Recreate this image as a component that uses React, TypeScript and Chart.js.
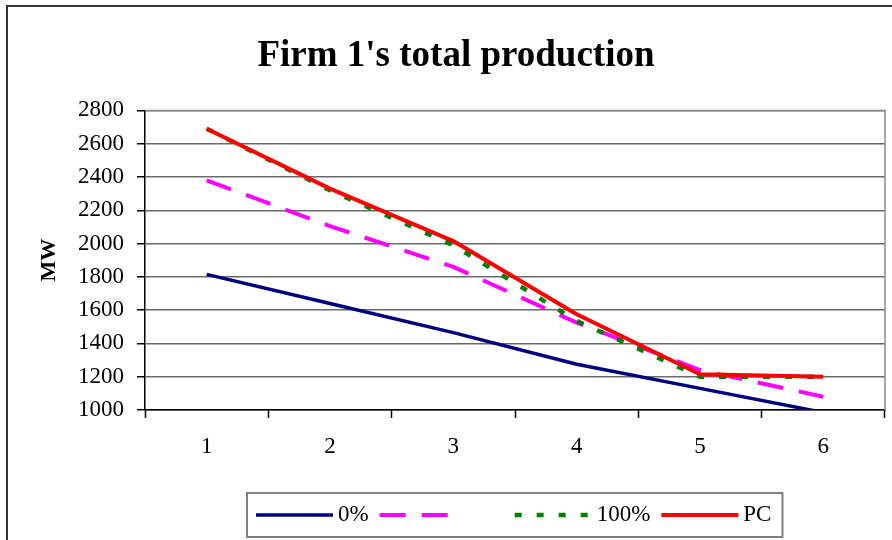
import React, { useEffect, useRef } from "react";
import { Chart, registerables } from "chart.js";

Chart.register(...registerables);

const titleText = "Firm 1's total production";
const yTitle = "MW";
const categories = ["1", "2", "3", "4", "5", "6"];
const series0 = [1815, 1640, 1465, 1275, 1130, 985];
const series50 = [2380, 2105, 1860, 1525, 1240, 1080];
const series100 = [2690, 2320, 1990, 1535, 1200, 1200];
const seriesPC = [2690, 2330, 2015, 1575, 1215, 1200];
const seriesLabels = ["0%", "", "100%", "PC"];
const seriesColors = ["#000080", "#FF00FF", "#008000", "#FF0000"];
const seriesDashes: number[][] = [[], [26, 16], [7, 15], []];
const seriesWidths = [3.5, 4, 4.5, 4];
const yMin = 1000;
const yMax = 2800;
const yStep = 200;

const SERIF = "'Liberation Serif', 'Times New Roman', serif";

const framePlugin = {
  id: "frame",
  beforeDatasetsDraw(chart: any) {
    const { ctx, chartArea } = chart;
    ctx.save();
    ctx.strokeStyle = "#8a8a8a";
    ctx.lineWidth = 1.5;
    ctx.beginPath();
    ctx.moveTo(chartArea.left, chartArea.top);
    ctx.lineTo(chartArea.right, chartArea.top);
    ctx.lineTo(chartArea.right, chartArea.bottom);
    ctx.stroke();
    ctx.restore();
  },
  afterDraw(chart: any) {
    const { ctx } = chart;
    ctx.save();
    ctx.strokeStyle = "#333333";
    ctx.lineWidth = 2;
    ctx.strokeRect(7, 6, 960, 600);
    ctx.restore();
  },
};

const legendPlugin = {
  id: "customLegend",
  afterDraw(chart: any) {
    const { ctx, chartArea } = chart;
    const font = `23px ${SERIF}`;
    ctx.save();
    ctx.font = font;
    const lineLen = 77;
    const gap = 5;
    const spacing = 11;
    const blankW = 42;
    const padL = 9;
    const padR = 11;
    const widths = seriesLabels.map((l) =>
      l ? ctx.measureText(l).width : blankW
    );
    let total = padL + padR;
    widths.forEach((w, i) => {
      total += lineLen + gap + w + (i < widths.length - 1 ? spacing : 0);
    });
    const boxX = Math.round((chartArea.left + chartArea.right) / 2 - total / 2);
    const boxY = 493;
    const boxH = 44;
    ctx.strokeStyle = "#808080";
    ctx.lineWidth = 2;
    ctx.strokeRect(boxX, boxY, total, boxH);
    const cy = boxY + boxH / 2;
    let x = boxX + padL;
    seriesLabels.forEach((label, i) => {
      ctx.strokeStyle = seriesColors[i];
      ctx.lineWidth = seriesWidths[i];
      ctx.setLineDash(seriesDashes[i]);
      ctx.lineCap = "butt";
      ctx.beginPath();
      ctx.moveTo(x, cy);
      ctx.lineTo(x + lineLen, cy);
      ctx.stroke();
      ctx.setLineDash([]);
      x += lineLen + gap;
      ctx.fillStyle = "#000";
      ctx.textBaseline = "middle";
      ctx.textAlign = "left";
      if (label) ctx.fillText(label, x, cy);
      x += widths[i] + spacing;
    });
    ctx.restore();
  },
};

export default function App() {
  const canvasRef = useRef<HTMLCanvasElement | null>(null);

  useEffect(() => {
    const canvas = canvasRef.current;
    if (!canvas) return;
    const allSeries = [series0, series50, series100, seriesPC];
    const chart = new Chart(canvas, {
      type: "line",
      data: {
        labels: categories,
        datasets: allSeries.map((data, i) => ({
          label: seriesLabels[i],
          data,
          borderColor: seriesColors[i],
          backgroundColor: seriesColors[i],
          borderWidth: seriesWidths[i],
          borderDash: seriesDashes[i],
          pointRadius: 0,
          tension: 0,
          fill: false,
          clip: 0,
          order: 4 - i,
          borderCapStyle: "butt",
          borderJoinStyle: "round",
        })),
      },
      options: {
        animation: false,
        responsive: false,
        devicePixelRatio: 1,
        layout: { padding: { left: 27, right: 7, top: 0, bottom: 0 } },
        plugins: {
          legend: { display: false },
          tooltip: { enabled: false },
          title: {
            display: true,
            text: titleText,
            color: "#000",
            font: { family: SERIF, size: 37, weight: "bold", lineHeight: 1.2 },
            padding: { top: 34, bottom: 32 },
          },
        },
        scales: {
          x: {
            offset: true,
            grid: {
              offset: true,
              drawOnChartArea: false,
              drawTicks: true,
              tickLength: 8,
              tickColor: "#000",
              tickWidth: 1.5,
            },
            border: { color: "#000", width: 1.5 },
            ticks: {
              color: "#000",
              font: { family: SERIF, size: 23 },
              padding: 15,
              maxRotation: 0,
            },
            afterFit: (s: any) => {
              s.height = 130;
            },
          },
          y: {
            min: yMin,
            max: yMax,
            ticks: {
              stepSize: yStep,
              color: "#000",
              font: { family: SERIF, size: 23 },
              padding: 13,
              callback: (v: any) => String(v),
            },
            grid: {
              color: "#6a6a6a",
              lineWidth: 1.5,
              tickLength: 8,
              tickColor: "#000",
              tickWidth: 1.5,
            },
            border: { color: "#000", width: 1.5 },
            title: {
              display: true,
              text: yTitle,
              color: "#000",
              font: { family: SERIF, size: 22, weight: "bold", lineHeight: 1.2 },
              padding: { top: 9, bottom: 0 },
            },
            afterFit: (s: any) => {
              s.width = 118;
            },
          },
        },
      },
      plugins: [framePlugin, legendPlugin],
    } as any);
    return () => chart.destroy();
  }, []);

  return (
    <div
      style={{
        position: "fixed",
        left: 0,
        top: 0,
        width: 892,
        height: 540,
        background: "#ffffff",
        overflow: "hidden",
      }}
    >
      <canvas ref={canvasRef} width={892} height={540} style={{ display: "block" }} />
    </div>
  );
}
